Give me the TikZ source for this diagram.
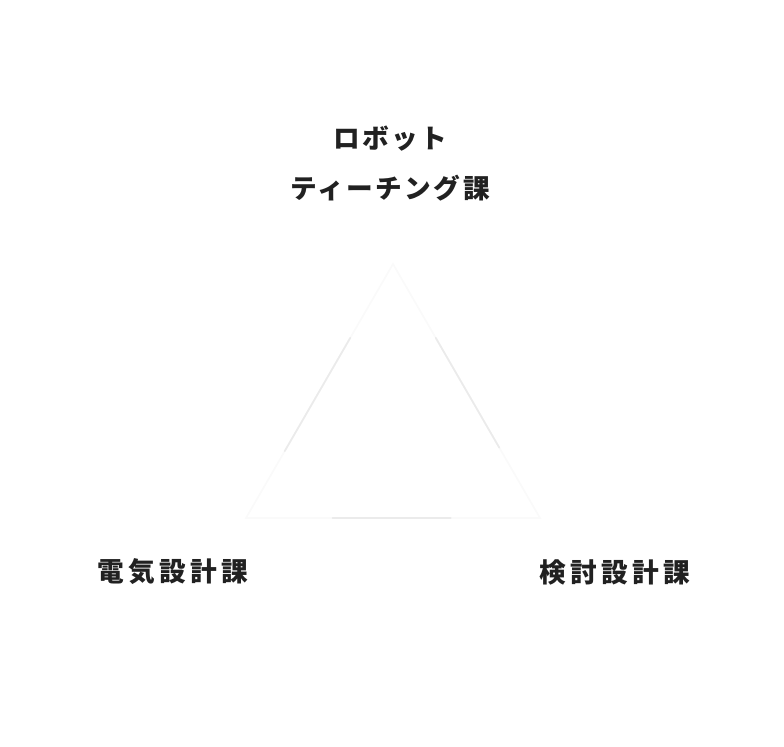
\documentclass[tikz,border=0pt]{standalone}
\usepackage{fontspec}
\usepackage{tikz}
\usetikzlibrary{positioning}
\newfontfamily\jpfont{Noto Sans CJK JP}[LetterSpace=9]
\newfontfamily\jpwide{Noto Sans CJK JP}[LetterSpace=16]
\def\labelsize{\fontsize{20pt}{37.5pt}\selectfont}

\begin{document}
\begin{tikzpicture}[x=0.75pt, y=-0.75pt, line cap=round]
        \tikzstyle{faint line}=[draw=black!2, line width=1.3pt];
        \tikzstyle{edge line}=[draw=black!8, line width=1.3pt];
        \tikzstyle{group}=[font=\jpfont\bfseries\labelsize, text=black!87, align=center, inner sep=0pt];
        \tikzstyle{wide group}=[group, font=\jpwide\bfseries\labelsize];

        \useasboundingbox (0,0) rectangle (784,746);

        % corners of the triangle
        \coordinate (A) at (393,264);
        \coordinate (L) at (246,518);
        \coordinate (R) at (540,518);

        % faint outline
        \draw[faint line] (A) -- (L) -- (R) -- cycle;
        % stronger middle parts of the edges
        \foreach \from/\to/\s/\e in {A/L/64pt/58pt, A/R/64pt/61pt, L/R/65pt/67pt}
            \draw[edge line, shorten <=\s, shorten >=\e] (\from) -- (\to);

        % groups
        \node[group] (robot) at (390,164) {ロボット\\ティーチング課};
        \node[wide group] (denki) at (173,572) {電気設計課};
        \node[wide group] (kento) at (615,572) {検討設計課};
\end{tikzpicture}
\end{document}
